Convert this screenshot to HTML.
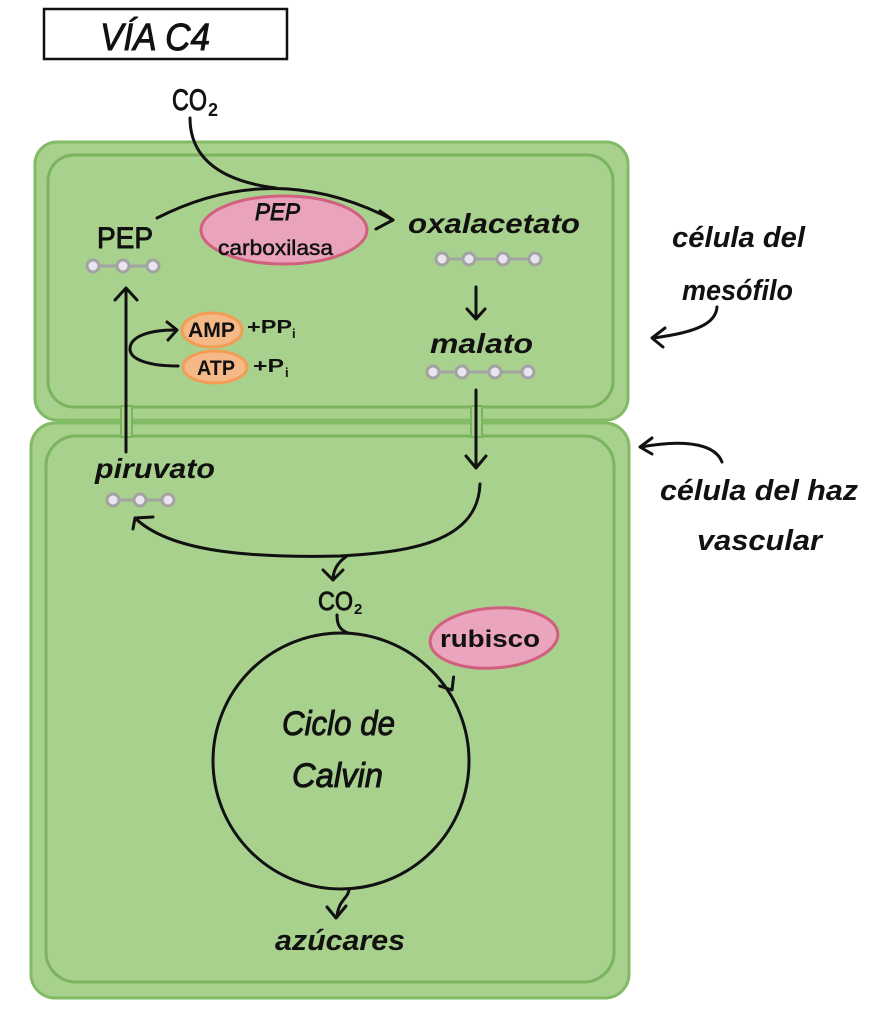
<!DOCTYPE html>
<html>
<head>
<meta charset="utf-8">
<style>
  html,body{margin:0;padding:0;background:#fff;}
  svg{display:block;}
  text{font-family:"Liberation Sans",sans-serif;fill:#111;}
  .thk{stroke:#111;stroke-width:0.9;}
</style>
</head>
<body>
<svg width="894" height="1024" viewBox="0 0 894 1024" xmlns="http://www.w3.org/2000/svg">
  <rect x="0" y="0" width="894" height="1024" fill="#ffffff"/>

  <!-- Title -->
  <rect x="44" y="9" width="243" height="50" fill="#fff" stroke="#111" stroke-width="2.5"/>
  <text class="thk" x="100" y="50" font-size="38" font-style="italic" textLength="110" lengthAdjust="spacingAndGlyphs">VÍA C4</text>

  <!-- Cells -->
  <rect x="35" y="142" width="593" height="278" rx="22" fill="#a9d18e" stroke="#82bb66" stroke-width="3"/>
  <rect x="48" y="155" width="565" height="252" rx="26" fill="none" stroke="#7bb35e" stroke-width="3"/>
  <rect x="31" y="423" width="598" height="575" rx="24" fill="#a9d18e" stroke="#82bb66" stroke-width="3"/>
  <rect x="46" y="436" width="568" height="546" rx="30" fill="none" stroke="#7bb35e" stroke-width="3"/>
  <!-- plasmodesmata -->
  <rect x="121" y="406" width="11" height="31" fill="#a9d18e" stroke="#7bb35e" stroke-width="2"/>
  <rect x="471" y="406" width="11" height="31" fill="#a9d18e" stroke="#7bb35e" stroke-width="2"/>

  <!-- Top CO2 -->
  <text class="thk" x="172" y="110" font-size="30" textLength="35" lengthAdjust="spacingAndGlyphs">CO</text>
  <text x="208" y="116" font-size="18" font-weight="bold">2</text>

  <g fill="none" stroke="#111" stroke-width="3" stroke-linecap="round" stroke-linejoin="round">
    <path d="M190,118 C190,152 212,180 276,188"/>
    <path d="M157,218 Q275,158 393,220"/>
    <path d="M380,211 L393,220 L376,229"/>
    <path d="M126,452 L126,290"/>
    <path d="M115,300 L126,288 L137,300"/>
    <path d="M178,366 C150,366 129,360 130,348 C131,336 150,330 175,330"/>
    <path d="M167,322 L177,330 L168,340"/>
    <path d="M476,287 L476,318"/>
    <path d="M467,309 L476,319 L485,309"/>
    <path d="M476,390 L476,467"/>
    <path d="M466,456 L476,468 L486,456"/>
    <path d="M480,484 C478,538 420,552 340,556 C250,558 170,552 135,518"/>
    <path d="M153,517 L135,518 L133,529"/>
    <path d="M347,556 C338,562 333,570 333,580"/>
    <path d="M323,570 L333,580 L343,570"/>
    <path d="M337,615 C337,625 340,630 348,633"/>
    <circle cx="341" cy="761" r="128"/>
    <path d="M439.6,686 L452,690 L453.6,677"/>
    <path d="M349,889 C349,898 338,900 337,917"/>
    <path d="M327,907 L336,918 L346,906"/>
    <path d="M717,307 C716,322 700,332 653,338"/>
    <path d="M665,328 L652,338 L663,347"/>
    <path d="M722,462 C716,446 690,438 641,447"/>
    <path d="M652,438 L640,447 L652,454"/>
  </g>

  <!-- PEP carboxilasa -->
  <ellipse cx="284" cy="230" rx="83" ry="34" fill="#e9a3bb" stroke="#d0607e" stroke-width="3"/>
  <text class="thk" x="255" y="220" font-size="24" font-style="italic" textLength="45" lengthAdjust="spacingAndGlyphs">PEP</text>
  <text class="thk" x="218" y="255" font-size="21" textLength="115" lengthAdjust="spacingAndGlyphs" style="stroke-width:0.5">carboxilasa</text>

  <!-- PEP -->
  <text class="thk" x="97" y="248" font-size="30" textLength="56" lengthAdjust="spacingAndGlyphs">PEP</text>
  <g stroke="#a3a3a3" stroke-width="3" fill="#e9e5ee">
    <line x1="93" y1="266" x2="153" y2="266"/>
    <circle cx="93" cy="266" r="6"/><circle cx="123" cy="266" r="6"/><circle cx="153" cy="266" r="6"/>
    <line x1="442" y1="259" x2="535" y2="259"/>
    <circle cx="442" cy="259" r="6"/><circle cx="469" cy="259" r="6"/><circle cx="503" cy="259" r="6"/><circle cx="535" cy="259" r="6"/>
    <line x1="433" y1="372" x2="528" y2="372"/>
    <circle cx="433" cy="372" r="6"/><circle cx="462" cy="372" r="6"/><circle cx="495" cy="372" r="6"/><circle cx="528" cy="372" r="6"/>
    <line x1="113" y1="500" x2="168" y2="500"/>
    <circle cx="113" cy="500" r="6"/><circle cx="140" cy="500" r="6"/><circle cx="168" cy="500" r="6"/>
  </g>

  <!-- labels -->
  <text x="408" y="233" font-size="28" font-weight="bold" font-style="italic" textLength="172" lengthAdjust="spacingAndGlyphs">oxalacetato</text>
  <text x="430" y="353" font-size="28" font-weight="bold" font-style="italic" textLength="103" lengthAdjust="spacingAndGlyphs">malato</text>
  <text x="95" y="478" font-size="28" font-weight="bold" font-style="italic" textLength="120" lengthAdjust="spacingAndGlyphs">piruvato</text>

  <!-- AMP / ATP -->
  <ellipse cx="212" cy="330" rx="30" ry="17" fill="#f5b887" stroke="#f29c55" stroke-width="3"/>
  <text x="188" y="337" font-size="21" font-weight="bold" textLength="47" lengthAdjust="spacingAndGlyphs">AMP</text>
  <text x="247" y="333" font-size="18" font-weight="bold" textLength="45" lengthAdjust="spacingAndGlyphs">+PP</text>
  <text x="292" y="338" font-size="13" font-weight="bold">i</text>
  <ellipse cx="215" cy="367" rx="32" ry="16" fill="#f5b887" stroke="#f29c55" stroke-width="3"/>
  <text x="197" y="375" font-size="21" font-weight="bold" textLength="38" lengthAdjust="spacingAndGlyphs">ATP</text>
  <text x="253" y="372" font-size="18" font-weight="bold" textLength="31" lengthAdjust="spacingAndGlyphs">+P</text>
  <text x="285" y="377" font-size="13" font-weight="bold">i</text>

  <!-- lower CO2 -->
  <text class="thk" x="318" y="610" font-size="26" textLength="35" lengthAdjust="spacingAndGlyphs">CO</text>
  <text x="354" y="614" font-size="15" font-weight="bold">2</text>

  <!-- rubisco -->
  <ellipse cx="494" cy="638" rx="64" ry="30" fill="#eaa4bd" stroke="#d0607e" stroke-width="3" transform="rotate(-4 494 638)"/>
  <text x="440" y="647" font-size="24" font-weight="bold" textLength="100" lengthAdjust="spacingAndGlyphs">rubisco</text>

  <!-- Calvin -->
  <text class="thk" x="282" y="735" font-size="34" font-style="italic" textLength="113" lengthAdjust="spacingAndGlyphs">Ciclo de</text>
  <text class="thk" x="292" y="787" font-size="34" font-style="italic" textLength="91" lengthAdjust="spacingAndGlyphs">Calvin</text>

  <!-- azucares -->
  <text x="275" y="950" font-size="29" font-weight="bold" font-style="italic" textLength="130" lengthAdjust="spacingAndGlyphs">azúcares</text>

  <!-- side labels -->
  <text x="672" y="247" font-size="29" font-weight="bold" font-style="italic" textLength="133" lengthAdjust="spacingAndGlyphs">célula del</text>
  <text x="682" y="300" font-size="29" font-weight="bold" font-style="italic" textLength="111" lengthAdjust="spacingAndGlyphs">mesófilo</text>
  <text x="660" y="500" font-size="29" font-weight="bold" font-style="italic" textLength="198" lengthAdjust="spacingAndGlyphs">célula del haz</text>
  <text x="697" y="550" font-size="29" font-weight="bold" font-style="italic" textLength="125" lengthAdjust="spacingAndGlyphs">vascular</text>
</svg>
</body>
</html>
